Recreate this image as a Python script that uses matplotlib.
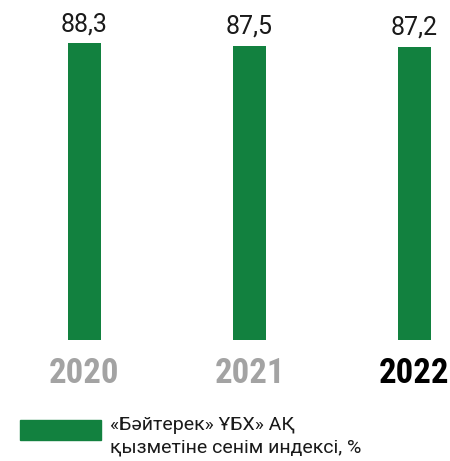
import matplotlib.pyplot as plt
import matplotlib.patches as mpatches
import numpy as np

# Data
years = ['2020', '2021', '2022']
values = [88.3, 87.5, 87.2]
year_colors = ['#a3a3a3', '#a3a3a3', '#000000']
legend_label = '«Бәйтерек» ҰБХ» АҚ\nқызметіне сенім индексі, %'

green = '#12813f'

fig = plt.figure(figsize=(4.5, 4.61), dpi=100)
ax = fig.add_axes([0, 1 - 340 / 461, 1, 340 / 461])

x = np.arange(len(years))
bars = ax.bar(x, values, width=0.2, color=green)

ax.set_xlim(-84.5 / 165, (450 - 84.5) / 165)
ax.set_ylim(0, 101.07)

# value labels
for bar, v in zip(bars, values):
    ax.annotate(f'{v:.1f}'.replace('.', ','),
                xy=(bar.get_x() + bar.get_width() / 2, v),
                xytext=(0, 5), textcoords='offset points',
                ha='center', va='bottom', fontsize=18,
                family='Roboto', color='#1a1a1a')

ax.set_xticks(x)
ax.set_xticklabels(years, fontsize=25, fontweight='bold',
                   family=['Roboto Condensed', 'DejaVu Sans'])
for lbl, c in zip(ax.get_xticklabels(), year_colors):
    lbl.set_color(c)
ax.tick_params(axis='x', length=0, pad=12)
ax.set_yticks([])
for s in ax.spines.values():
    s.set_visible(False)

# legend
fig.patches.append(mpatches.Rectangle((20 / 450, 1 - 440 / 461), 81 / 450, 20 / 461,
                                      transform=fig.transFigure, color=green))
fig.text(110 / 450, 1 - 416 / 461, legend_label, ha='left', va='top',
         fontsize=14, family='Roboto', color='#1a1a1a', linespacing=1.35)

fig.savefig('out.png', dpi=100)
